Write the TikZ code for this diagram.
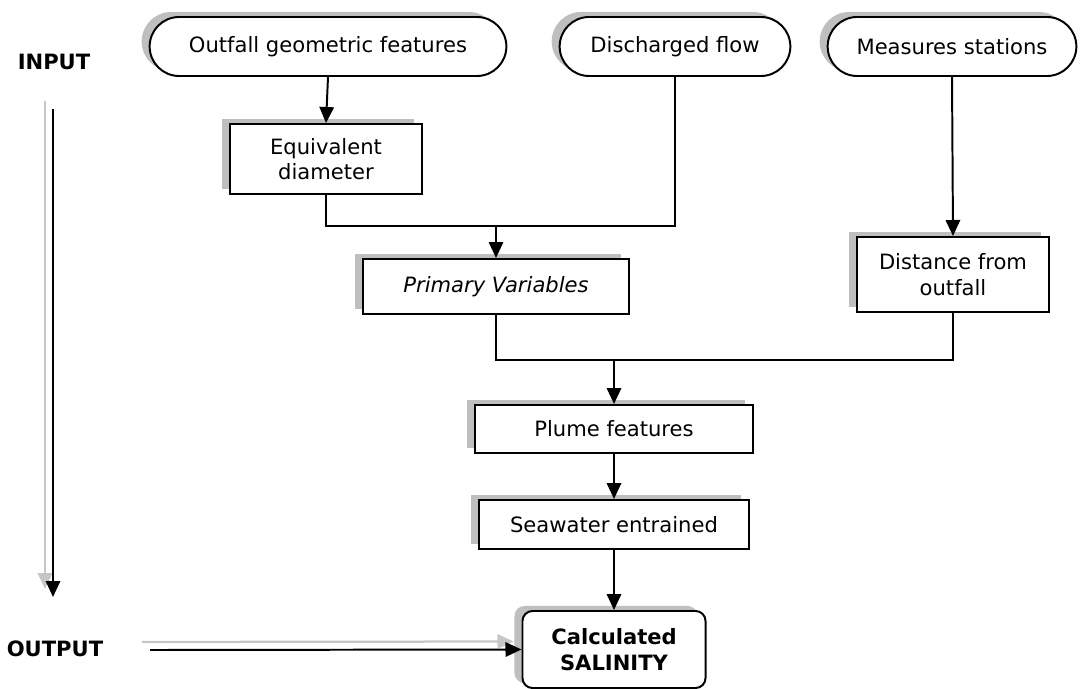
\documentclass[tikz,border=0pt]{standalone}
\usepackage{fontspec}
\setmainfont{DejaVu Sans}
\usetikzlibrary{arrows.meta,positioning,shapes.misc,shadows}
\tikzset{
  >={Triangle[length=4mm,width=3.6mm]},
  every node/.style={font=\fontsize{15}{18}\selectfont,align=center},
  shadowed/.style={drop shadow={shadow xshift=-2mm,shadow yshift=1.25mm,fill=gray!50,opacity=1}}
}
\tikzset{terminal/.style={
    draw,fill=white,shadowed,
    rounded rectangle,
    minimum width=#1,
    minimum height=1.475cm
  },
  terminal/.default=6cm}
\tikzset{field/.style={
    draw,fill=white,shadowed,
    minimum width=#1,
    inner sep=0mm
  },
  field/.default=4.8cm}
\tikzset{arrowshadow/.style={
    preaction={draw=gray!45,line width=1.6pt,transform canvas={xshift=-2mm,yshift=2mm}}
  }}

\begin{document}
\begin{tikzpicture}
  [x=0.025cm,y=-0.025cm,line width=1.4pt]
  \useasboundingbox (0,0) rectangle (1083,689);

  \node (Outfall)  [terminal=9.15cm] at (328,46.5)  {Outfall geometric features};
  \node (Flow)     [terminal=6cm]    at (675,46.5)  {Discharged flow};
  \node (Stations) [terminal=6.45cm] at (952,46.5)  {Measures stations};

  \node (Diameter) [field=4.8cm,minimum height=1.75cm]   at (326,159)   {Equivalent\\diameter};
  \node (Primary)  [field=6.625cm,minimum height=1.375cm] at (496,286.5) {\itshape Primary Variables};
  \node (Distance) [field=4.8cm,minimum height=1.875cm]  at (953,274.5) {Distance from\\outfall};
  \node (Plume)    [field=6.925cm,minimum height=1.2cm]  at (614,429)   {Plume features};
  \node (Seawater) [field=6.75cm,minimum height=1.225cm] at (614,524.5) {Seawater entrained};
  \node (Salinity) [field=4.575cm,minimum height=1.925cm,rounded corners=2.5mm,font=\fontsize{15}{18}\selectfont\bfseries]
                   at (614,649.5) {Calculated\\SALINITY};

  \node (Input)  [font=\fontsize{15}{18}\selectfont\bfseries] at (54,62)  {INPUT};
  \node (Output) [font=\fontsize{15}{18}\selectfont\bfseries] at (55,649) {OUTPUT};

  \coordinate (JoinA) at (496,226);
  \coordinate (JoinB) at (614,360);
  \coordinate (FlowTop) at (53,109);
  \coordinate (FlowEnd) at (53,597);
  \coordinate (OutStart) at (150,650);

  \draw [->] (Outfall.south) -- (Diameter.north);
  \draw (Diameter.south) |- (JoinA);
  \draw (Flow.south) |- (JoinA);
  \draw [->] (JoinA) -- (Primary.north);

  \draw [->] (Stations.south) -- (Distance.north);
  \draw (Primary.south) |- (JoinB);
  \draw (Distance.south) |- (JoinB);
  \draw [->] (JoinB) -- (Plume.north);

  \draw [->] (Plume) -- (Seawater);
  \draw [->] (Seawater) -- (Salinity);

  \draw [->,arrowshadow] (FlowTop) -- (FlowEnd);
  \draw [->,arrowshadow] (OutStart) -- (Salinity.west);
\end{tikzpicture}
\end{document}
